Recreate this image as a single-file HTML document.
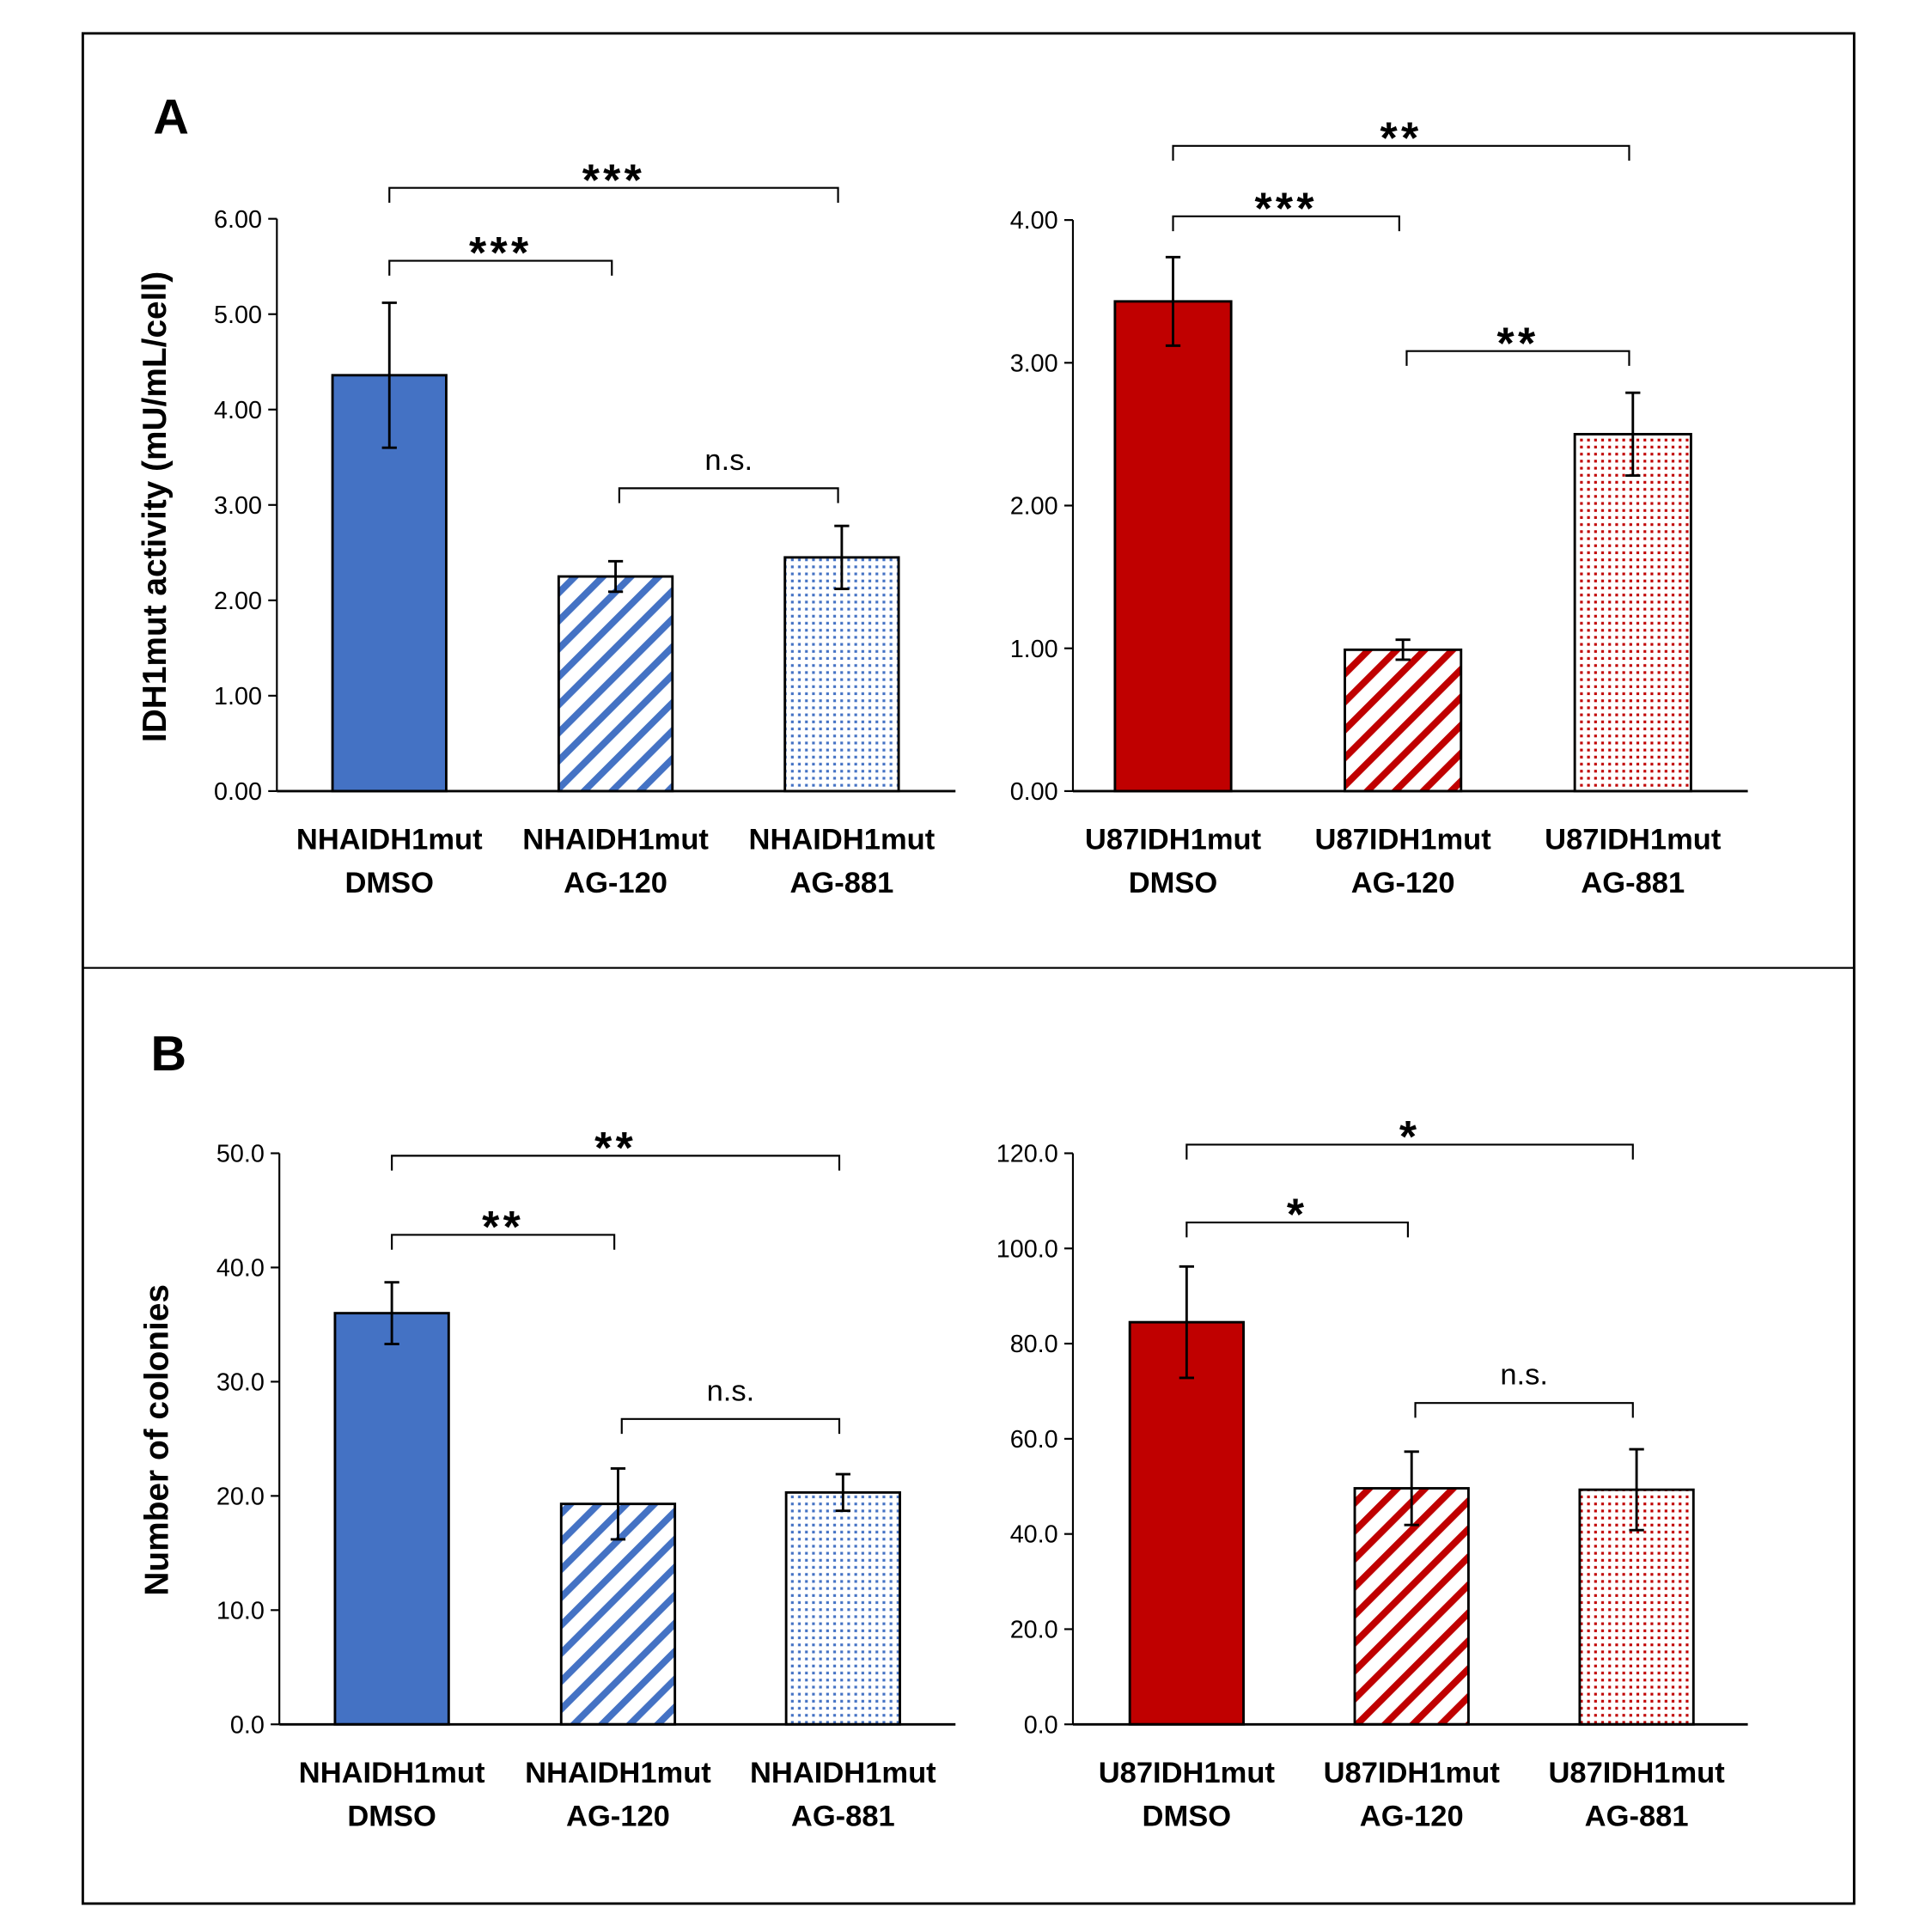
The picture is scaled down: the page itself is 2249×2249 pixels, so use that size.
<!DOCTYPE html>
<html><head><meta charset="utf-8">
<style>
html,body{margin:0;padding:0;background:#fff;}
svg{display:block;}
text{font-family:"Liberation Sans",Arial,sans-serif;}
</style></head>
<body>
<svg id="fig" width="2249" height="2249" viewBox="0 0 1563 1563" xmlns="http://www.w3.org/2000/svg">
<defs>
<pattern id="stripeBlue" patternUnits="userSpaceOnUse" width="16" height="16" patternTransform="rotate(45)">
<rect width="16" height="16" fill="#fff"/><rect x="0" y="0" width="5.5" height="16" fill="#4472C4"/></pattern>
<pattern id="stripeRed" patternUnits="userSpaceOnUse" width="16" height="16" patternTransform="rotate(45)">
<rect width="16" height="16" fill="#fff"/><rect x="0" y="0" width="5.5" height="16" fill="#C00000"/></pattern>
<pattern id="dotBlue" patternUnits="userSpaceOnUse" width="5.7" height="5.7">
<rect width="5.7" height="5.7" fill="#fff"/><rect x="1.5" y="1.5" width="2.2" height="2.2" fill="#4472C4"/></pattern>
<pattern id="dotRed" patternUnits="userSpaceOnUse" width="5.7" height="5.7">
<rect width="5.7" height="5.7" fill="#fff"/><rect x="1.5" y="1.5" width="2.2" height="2.2" fill="#C00000"/></pattern>
</defs>
<rect x="67" y="27" width="1433" height="1513" fill="none" stroke="#000" stroke-width="2"/>
<line x1="67" y1="783" x2="1500" y2="783" stroke="#000" stroke-width="1.5"/>
<text x="124" y="108" font-size="40" font-weight="bold">A</text>
<text x="122" y="866" font-size="40" font-weight="bold">B</text>
<text transform="translate(134,410) rotate(-90)" text-anchor="middle" font-size="27" font-weight="bold">IDH1mut activity (mU/mL/cell)</text>
<text transform="translate(136,1165) rotate(-90)" text-anchor="middle" font-size="27" font-weight="bold">Number of colonies</text>
<g id="charts"></g>
</svg>
<script>
// Data arrays
const nhaCategories = ["NHAIDH1mut|DMSO","NHAIDH1mut|AG-120","NHAIDH1mut|AG-881"];
const u87Categories = ["U87IDH1mut|DMSO","U87IDH1mut|AG-120","U87IDH1mut|AG-881"];
const activityNhaValues = [4.36, 2.25, 2.45];
const activityNhaErrors = [0.76, 0.16, 0.33];
const activityU87Values = [3.43, 0.99, 2.50];
const activityU87Errors = [0.31, 0.07, 0.29];
const coloniesNhaValues = [36.0, 19.3, 20.3];
const coloniesNhaErrors = [2.7, 3.1, 1.6];
const coloniesU87Values = [84.5, 49.6, 49.3];
const coloniesU87Errors = [11.7, 7.7, 8.5];
const activityNhaTicks = [0,1,2,3,4,5,6];
const activityU87Ticks = [0,1,2,3,4];
const coloniesNhaTicks = [0,10,20,30,40,50];
const coloniesU87Ticks = [0,20,40,60,80,100,120];
const activityNhaSig = [["***",0,1],["***",0,2],["n.s.",1,2]];
const activityU87Sig = [["***",0,1],["**",0,2],["**",1,2]];
const coloniesNhaSig = [["**",0,1],["**",0,2],["n.s.",1,2]];
const coloniesU87Sig = [["*",0,1],["*",0,2],["n.s.",1,2]];

const NS="http://www.w3.org/2000/svg";
const root=document.getElementById('charts');
function mk(tag,attrs,parent){const e=document.createElementNS(NS,tag);for(const k in attrs)e.setAttribute(k,attrs[k]);(parent||root).appendChild(e);return e;}

function chart(cfg){
  const g=mk('g',{});
  
  
  const max=cfg.ticks[cfg.ticks.length-1];
  const y=v=>cfg.y0-(v/max)*(cfg.y0-cfg.yTop);
  const x=i=>cfg.centers[i];
  cfg.ticks.forEach(t=>{
    const ty=y(t);
    const tl=mk('line',{x1:cfg.ax-7,y1:ty,x2:cfg.ax,y2:ty,stroke:'#000','stroke-width':1.5},g);
    
    
    const tx=mk('text',{x:cfg.ax-12,y:ty+7,'text-anchor':'end','font-size':20},g);
    tx.textContent=t.toFixed(cfg.dec);
    
    
  });
  const yl=mk('line',{x1:cfg.ax,y1:cfg.yTop,x2:cfg.ax,y2:cfg.y0,stroke:'#000','stroke-width':1.5},g);
  
  
  cfg.values.forEach((v,i)=>{
    const r=mk('rect',{x:x(i)-cfg.bw/2,y:y(v),width:cfg.bw,height:cfg.y0-y(v),fill:cfg.fills[i],stroke:'#000','stroke-width':2},g);
    
    
    const e=cfg.errors[i];
    const eg=mk('path',{d:`M${x(i)},${y(v+e)}V${y(v-e)}M${x(i)-6},${y(v+e)}H${x(i)+6}M${x(i)-6},${y(v-e)}H${x(i)+6}`,stroke:'#000','stroke-width':2,fill:'none'},g);
    
    
    const parts=cfg.cats[i].split('|');
    const lt=mk('text',{x:x(i),y:cfg.y0+47,'text-anchor':'middle','font-size':24,'font-weight':'bold'},g);
    lt.textContent=parts[0];
    
    
    const lt2=mk('text',{x:x(i),y:cfg.y0+82,'text-anchor':'middle','font-size':24,'font-weight':'bold'},g);
    lt2.textContent=parts[1];
    
    
  });
  const xl=mk('line',{x1:cfg.ax,y1:cfg.y0,x2:cfg.axEnd,y2:cfg.y0,stroke:'#000','stroke-width':2},g);
  
  
  cfg.sig.forEach((s,k)=>{
    const by=cfg.bracketY[k];
    const x1=x(s[1])+(s[1]>0?3:0), x2=x(s[2])-3;
    const p=mk('path',{d:`M${x1},${by+12}V${by}H${x2}V${by+12}`,stroke:'#000','stroke-width':1.5,fill:'none'},g);
    
    
    const isNs=s[0]==='n.s.';
    const t=mk('text',{x:(x1+x2)/2,y:isNs?by-15:by+6,'text-anchor':'middle','font-size':isNs?24:36,'font-weight':'bold','letter-spacing':isNs?0:3},g);
    if(isNs) t.setAttribute('font-weight','normal');
    t.textContent=s[0];
    
    
  });
}
const blueFills=['#4472C4','url(#stripeBlue)','url(#dotBlue)'];
const redFills=['#C00000','url(#stripeRed)','url(#dotRed)'];
chart({name:'chart-activity-nha',cats:nhaCategories,values:activityNhaValues,errors:activityNhaErrors,ticks:activityNhaTicks,dec:2,sig:activityNhaSig,
  ax:224,axEnd:773,y0:640,yTop:177,centers:[315,498,681],bw:92,fills:blueFills,bracketY:[211,152,395]});
chart({name:'chart-activity-u87',cats:u87Categories,values:activityU87Values,errors:activityU87Errors,ticks:activityU87Ticks,dec:2,sig:activityU87Sig,
  ax:868,axEnd:1414,y0:640,yTop:178,centers:[949,1135,1321],bw:94,fills:redFills,bracketY:[175,118,284]});
chart({name:'chart-colonies-nha',cats:nhaCategories,values:coloniesNhaValues,errors:coloniesNhaErrors,ticks:coloniesNhaTicks,dec:1,sig:coloniesNhaSig,
  ax:226,axEnd:773,y0:1395,yTop:933,centers:[317,500,682],bw:92,fills:blueFills,bracketY:[999,935,1148]});
chart({name:'chart-colonies-u87',cats:u87Categories,values:coloniesU87Values,errors:coloniesU87Errors,ticks:coloniesU87Ticks,dec:1,sig:coloniesU87Sig,
  ax:868,axEnd:1414,y0:1395,yTop:933,centers:[960,1142,1324],bw:92,fills:redFills,bracketY:[989,926,1135]});
</script>
</body></html>
